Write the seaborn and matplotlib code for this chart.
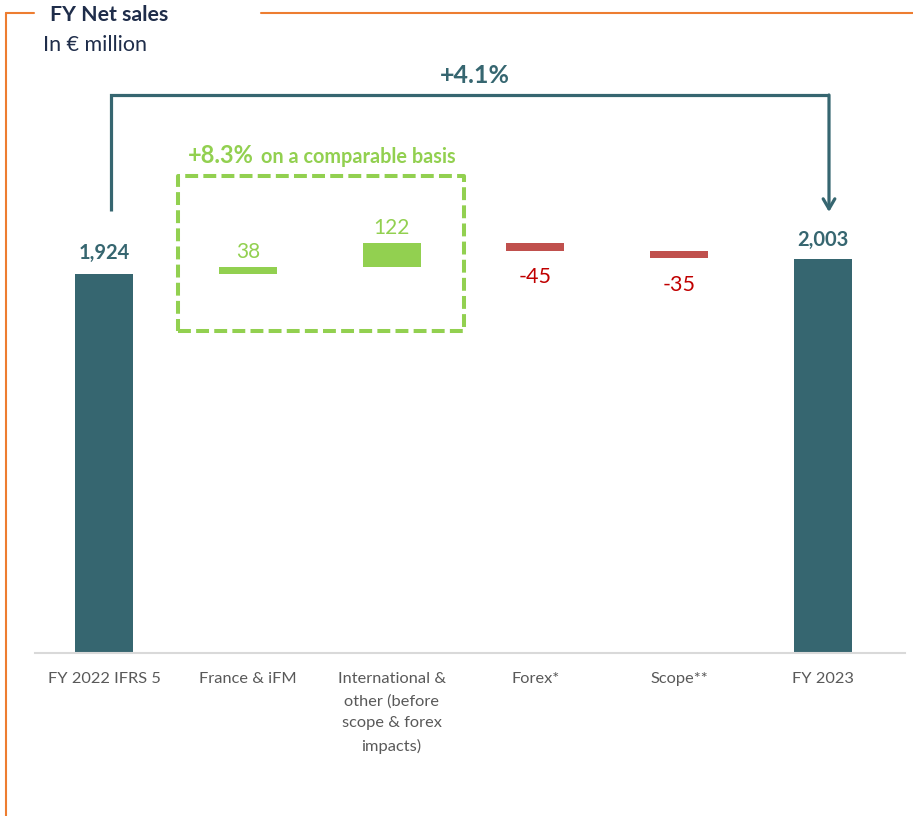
import matplotlib
matplotlib.use("Agg")
import matplotlib.pyplot as plt
from matplotlib.lines import Line2D
import seaborn as sns
import pandas as pd

# ---- data ----
categories = ["FY 2022 IFRS 5", "France & iFM",
              "International &\nother (before\nscope & forex\nimpacts)",
              "Forex*", "Scope**", "FY 2023"]
kinds = ["total", "inc", "inc", "dec", "dec", "total"]
values = [1924, 38, 122, -45, -35, 2003]
value_labels = ["1,924", "38", "122", "-45", "-35", "2,003"]
total_growth = "+4.1%"
comparable_growth = "+8.3%"
comparable_text = "on a comparable basis"
title = "FY Net sales"
subtitle = "In € million"

# ---- styles ----
TEAL = "#366670"
GREEN = "#92d050"
RED_BAR = "#c0504d"
RED_TXT = "#c00000"
ORANGE = "#ed7d31"
NAVY = "#1f2d4a"
GRAY = "#595959"
FONT = ["Lato", "DejaVu Sans"]

sns.set_theme(style="white")
plt.rcParams["font.family"] = FONT

W, H = 913, 816
fig = plt.figure(figsize=(W / 100, H / 100), dpi=100)

# axes geometry (pixels)
base_px = 652.7
px_per_unit = 0.1968
step = 143.8
c0 = 104.0
left_px, right_px = 35.0, 905.0
ytop = base_px / px_per_unit
ax = fig.add_axes([left_px / W, (H - base_px) / H, (right_px - left_px) / W, base_px / H])

# waterfall bottoms / heights
bottoms, heights = [], []
running = 0
for k, v in zip(kinds, values):
    if k == "total":
        bottoms.append(0); heights.append(v); running = v
    else:
        bottoms.append(min(running, running + v)); heights.append(abs(v)); running += v

df = pd.DataFrame({"cat": categories, "kind": kinds, "bottom": bottoms, "height": heights,
                   "value": values, "label": value_labels})
df["top"] = df["bottom"] + df["height"]

colors = {"total": TEAL, "inc": GREEN, "dec": RED_BAR}
for k, col in colors.items():
    sub = df[df["kind"] == k]
    sns.barplot(data=sub, x="cat", y="height", order=categories, color=col,
                bottom=sub["bottom"].to_numpy(), width=0.403, saturation=1,
                ax=ax, linewidth=0)

ax.set_xlim((left_px - c0) / step, (right_px - c0) / step)
ax.set_ylim(0, ytop)
ax.set_xlabel(""); ax.set_ylabel("")
ax.set_yticks([])
for s in ["left", "right", "top"]:
    ax.spines[s].set_visible(False)
ax.spines["bottom"].set_color("#d9d9d9")
ax.spines["bottom"].set_linewidth(1.5)
ax.tick_params(axis="x", length=0, pad=14, labelsize=11.8, labelcolor=GRAY)
ax.set_xticks(range(len(categories)))
ax.set_xticklabels(categories, linespacing=1.7)

def pxv(p):
    return (base_px - p) / px_per_unit

def pxx(p):
    return (p - c0) / step

# value labels
for i, r in df.iterrows():
    if r["kind"] == "total":
        ax.annotate(r["label"], (i, r["top"]), xytext=(0, 15 if i == 0 else 13),
                    textcoords="offset points", ha="center", va="center",
                    fontsize=14.5, fontweight="bold", color=TEAL)
    elif r["kind"] == "inc":
        ax.annotate(r["label"], (i, r["top"]), xytext=(0, 10.5),
                    textcoords="offset points", ha="center", va="center",
                    fontsize=15, color=GREEN)
    else:
        ax.annotate(r["label"], (i, r["bottom"]), xytext=(0, -18.5 if i == 3 else -19.5),
                    textcoords="offset points", ha="center", va="center",
                    fontsize=15.5, color=RED_TXT)

# total growth bracket
y_top = pxv(95)
xl, xr = pxx(111), pxx(829)
ax.plot([xl, xl, xr], [pxv(211), y_top, y_top], color=TEAL, lw=2.3,
        solid_joinstyle="miter", solid_capstyle="butt", clip_on=False)
ax.annotate("", xy=(xr, pxv(212)), xytext=(xr, y_top),
            arrowprops=dict(arrowstyle="->,head_length=0.6,head_width=0.35",
                            color=TEAL, lw=2.3, shrinkA=0, shrinkB=0))
ax.text(pxx(475), pxv(75), total_growth, ha="center", va="center",
        fontsize=18, fontweight="bold", color=TEAL)

# comparable basis dashed box
x0, x1 = pxx(178), pxx(464)
ya, yb = pxv(331), pxv(176)
ax.plot([x0, x1, x1, x0, x0], [ya, ya, yb, yb, ya], color=GREEN, lw=2.9,
        ls=(0, (3.2, 1.3)), clip_on=False)
ax.text(pxx(254), pxv(163), comparable_growth, ha="right", va="baseline",
        fontsize=17, fontweight="bold", color=GREEN)
ax.text(pxx(261), pxv(163), comparable_text, ha="left", va="baseline",
        fontsize=14.3, fontweight="bold", color=GREEN)

# frame & titles
def fx(p): return p / W
def fy(p): return 1 - p / H
fig.add_artist(Line2D([fx(6), fx(6)], [fy(13), fy(H)], color=ORANGE, lw=1.5))
fig.add_artist(Line2D([fx(6), fx(34)], [fy(13), fy(13)], color=ORANGE, lw=1.5))
fig.add_artist(Line2D([fx(261), fx(W)], [fy(13), fy(13)], color=ORANGE, lw=1.5))
fig.text(fx(50), fy(15), title, ha="left", va="center", fontsize=15.3,
         fontweight="bold", color=NAVY)
fig.text(fx(43), fy(45), subtitle, ha="left", va="center", fontsize=15.5, color=NAVY)

fig.savefig("out.png", dpi=100)
